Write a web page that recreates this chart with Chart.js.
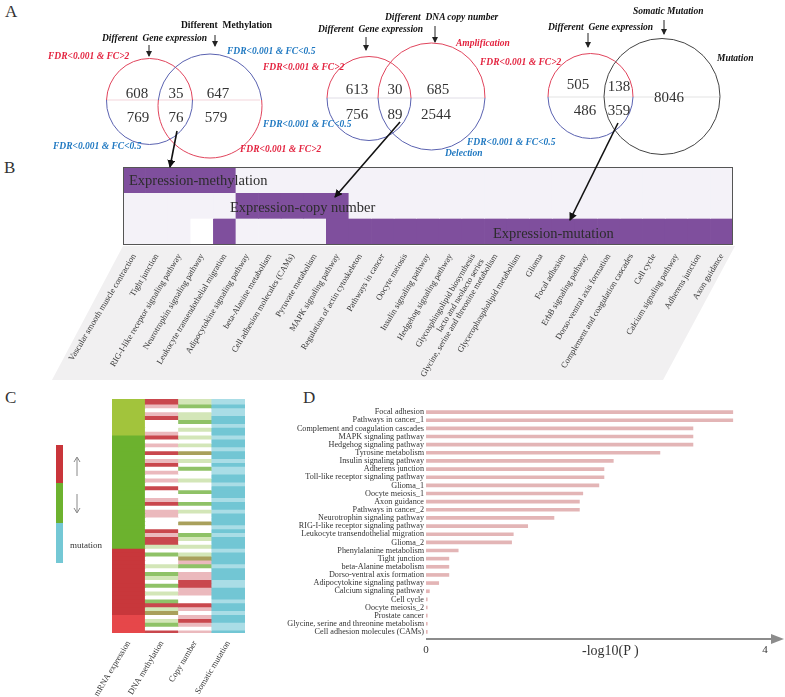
<!DOCTYPE html>
<html>
<head>
<meta charset="utf-8">
<script src="https://cdn.jsdelivr.net/npm/chart.js@4.4.1/dist/chart.umd.min.js"></script>
<style>
  body { margin: 0; background: #fff; }
  #page { position: relative; width: 785px; height: 697px; overflow: hidden; font-family: 'Liberation Serif', 'Times New Roman', serif; color: #222; }
  .box { position: absolute; }
  .lbl { position: absolute; white-space: nowrap; }
  .panel { font-size: 17px; color: #333; }
  .rowtxt { font-size: 14.5px; color: #2c2c2c; transform: translateY(-50%); z-index: 2; }
  #overlay { position: absolute; left: 0; top: 0; pointer-events: none; z-index: 3; }
</style>
</head>
<body>
<div id="page">
  <div class="lbl panel" style="left:5px;top:2px">A</div>
  <div class="lbl panel" style="left:4px;top:158px">B</div>
  <div class="lbl panel" style="left:5px;top:388px">C</div>
  <div class="lbl panel" style="left:303px;top:388px">D</div>

  <canvas id="chartB" class="box" width="785" height="240" style="left:0;top:160px"></canvas>
  <div class="lbl rowtxt" style="left:129px;top:180px">Expression-methylation</div>
  <div class="lbl rowtxt" style="left:230px;top:207px">Expression-copy number</div>
  <div class="lbl rowtxt" style="left:493px;top:233px">Expression-mutation</div>

  <canvas id="chartC" class="box" width="265" height="307" style="left:0;top:390px"></canvas>
  <div class="box" style="left:56px;top:445px;width:7px;height:38px;background:#c9353a"></div>
  <div class="box" style="left:56px;top:483px;width:7px;height:40px;background:#6db22f"></div>
  <div class="box" style="left:56px;top:523px;width:7px;height:40px;background:#74c8d5"></div>
  <div class="lbl" style="left:70px;top:540px;font-size:9px;color:#333">mutation</div>

  <canvas id="chartD" class="box" width="517" height="262" style="left:268px;top:400px"></canvas>
  <div class="lbl" style="left:582px;top:643px;font-size:14px;color:#333">-log10(P )</div>

  <svg id="overlay" width="785" height="697"></svg>
</div>
<script>
Chart.defaults.font.family = "'Liberation Serif', 'Times New Roman', serif";

// Panel A: Venn counts
const vennMethylation = [608, 35, 647, 769, 76, 579];
const vennCopyNumber = [613, 30, 685, 756, 89, 2544];
const vennMutation = [505, 138, 8046, 486, 359];

// Panel B: pathways and overlap rows (P = overlap, L = none, W = blank)
const pathwayLabels = [
  'Vascular smooth muscle contraction', 'Tight junction', 'RIG-I-like receptor signaling pathway',
  'Neurotrophin signaling pathway', 'Leukocyte transendothelial migration', 'Adipocytokine signaling pathway',
  'beta-Alanine metabolism', 'Cell adhesion molecules (CAMs)', 'Pyruvate metabolism',
  'MAPK signaling pathway', 'Regulation of actin cytoskeleton', 'Pathways in cancer', 'Oocyte meiosis',
  'Insulin signaling pathway', 'Hedgehog signaling pathway',
  ['Glycosphingolipid biosynthesis', 'lacto and neolacto series'],
  'Glycine, serine and threonine metabolism', 'Glycerophospholipid metabolism', 'Glioma',
  'Focal adhesion', 'ErbB signaling pathway', 'Dorso-ventral axis formation',
  'Complement and coagulation cascades', 'Cell cycle', 'Calcium signaling pathway',
  'Adherens junction', 'Axon guidance'
];
const rowMethylation = 'PPPPPLLLLLLLLLLLLLLLLLLLLLL';
const rowCopyNumber  = 'LLLLLPPPPPLLLLLLLLLLLLLLLLL';
const rowMutation    = 'LLLWPLLLLPPPPPPPPPPPPPPPPPP';

// Panel C: heatmap columns, one letter per row (top to bottom)
const heatColumns = ['mRNA expression', 'DNA methylation', 'Copy number', 'Somatic mutation'];
const heatMrna = ['yyyyyyyyyM', 'MMMMMMMMMM', 'MMMMMMMMMM', 'MMMMMMMMRR', 'RRRRRRRRRR', 'RRRRREEEEE'].join('');
const heatMeth = ['rp.pr...pr', '.p.r.pr.p.', 'p.r..pr.pp', '...rprrg.G', '..g.Gg.G.g', '.Grgo.gG.r'].join('');
const heatCopy = ['gG.ggG.g.g', '.g.o.g.G..', 'g..G..G.g.', '.o..Gg.g.g', 'opG.pprrpp', '..rp.prp.p'].join('');
const heatMut  = ['lcllcclccl', 'cclcclcllc', 'clccclcclc', 'cclclccclc', 'cclcccllcc', 'clcclccllc'].join('');

// Panel D: enrichment
const enrichLabels = [
  'Focal adhesion', 'Pathways in cancer_1', 'Complement and coagulation cascades',
  'MAPK signaling pathway', 'Hedgehog signaling pathway', 'Tyrosine metabolism',
  'Insulin signaling pathway', 'Adherens junction', 'Toll-like receptor signaling pathway',
  'Glioma_1', 'Oocyte meiosis_1', 'Axon guidance', 'Pathways in cancer_2',
  'Neurotrophin signaling pathway', 'RIG-I-like receptor signaling pathway',
  'Leukocyte transendothelial migration', 'Glioma_2', 'Phenylalanine metabolism',
  'Tight junction', 'beta-Alanine metabolism', 'Dorso-ventral axis formation',
  'Adipocytokine signaling pathway', 'Calcium signaling pathway', 'Cell cycle',
  'Oocyte meiosis_2', 'Prostate cancer', 'Glycine, serine and threonine metabolism',
  'Cell adhesion molecules (CAMs)'
];
const enrichValues = [3.62, 3.62, 3.15, 3.15, 3.15, 2.76, 2.21, 2.10, 2.10, 2.04, 1.85, 1.81, 1.81,
  1.51, 1.20, 1.03, 1.01, 0.38, 0.27, 0.27, 0.27, 0.15, 0.04, 0.015, 0.015, 0.015, 0.015, 0.015];

// ---------- Panel B ----------
const cellColor = { P: '#7f4f9d', L: '#f4f2f8', W: '#ffffff' };
const overlapRows = [rowMethylation, rowCopyNumber, rowMutation];

const labelBackdrop = {
  id: 'labelBackdrop',
  beforeDraw(chart) {
    const ctx = chart.ctx;
    ctx.save();
    ctx.fillStyle = '#f1f0f1';
    ctx.beginPath();
    ctx.moveTo(123, 86);
    ctx.lineTo(735, 86);
    ctx.lineTo(663, 220);
    ctx.lineTo(52, 220);
    ctx.closePath();
    ctx.fill();
    ctx.restore();
  }
};
const frame = {
  id: 'frame',
  afterDatasetsDraw(chart) {
    const { left, top, width, height } = chart.chartArea;
    chart.ctx.save();
    chart.ctx.strokeStyle = '#555';
    chart.ctx.lineWidth = 1;
    chart.ctx.strokeRect(left + 0.5, top + 0.5, width - 1, height);
    chart.ctx.restore();
  }
};

new Chart(document.getElementById('chartB'), {
  type: 'bar',
  data: {
    labels: pathwayLabels,
    datasets: overlapRows.map((row, r) => ({
      data: pathwayLabels.map(() => [r, r + 1]),
      backgroundColor: row.split('').map(k => cellColor[k]),
      grouped: false,
      barPercentage: 1,
      categoryPercentage: 1,
      borderWidth: 0
    }))
  },
  options: {
    responsive: false,
    animation: false,
    layout: { padding: { left: 123, right: 52, top: 7, bottom: 0 } },
    plugins: { legend: { display: false }, tooltip: { enabled: false } },
    scales: {
      x: {
        grid: { display: false, drawTicks: false },
        border: { display: false },
        ticks: { autoSkip: false, minRotation: 59, maxRotation: 59, padding: 8, font: { size: 8.5 }, color: '#333' },
        afterFit: s => { s.height = 156; }
      },
      y: { min: 0, max: 3, reverse: true, display: false }
    }
  },
  plugins: [labelBackdrop, frame]
});

// ---------- Panel C ----------
const heatColor = {
  y: '#a2c43c', M: '#6cb22e', R: '#c8373b', E: '#e6474a',
  '.': '#ffffff', p: '#ebb9bd', r: '#c9474d', g: '#d3e6b8', G: '#8fc267', o: '#a9a05c',
  c: '#72c6d4', l: '#aadde6'
};
const heatStrings = [heatMrna, heatMeth, heatCopy, heatMut];
const heatRows = heatMrna.length;
const heatDatasets = [];
for (let i = 0; i < heatRows; i++) {
  const colors = heatStrings.map(s => heatColor[s[i]]);
  // each row slightly overlaps the next one so no seams show between cells
  const end = i < heatRows - 1 ? i + 1.3 : i + 1;
  heatDatasets.push({
    data: heatColumns.map(() => [i, end]),
    backgroundColor: colors,
    borderWidth: 0,
    grouped: false,
    barPercentage: 1,
    categoryPercentage: 1
  });
}

new Chart(document.getElementById('chartC'), {
  type: 'bar',
  data: { labels: heatColumns, datasets: heatDatasets },
  options: {
    responsive: false,
    animation: false,
    layout: { padding: { left: 112, right: 20, top: 9, bottom: 0 } },
    plugins: { legend: { display: false }, tooltip: { enabled: false } },
    scales: {
      x: {
        grid: { display: false, drawTicks: false },
        border: { display: false },
        ticks: { autoSkip: false, minRotation: 59, maxRotation: 59, padding: 6, font: { size: 8.5 }, color: '#333' },
        afterFit: s => { s.height = 64; }
      },
      y: { min: 0, max: heatRows, reverse: true, display: false }
    }
  }
});

// ---------- Panel D ----------
const axisArrow = {
  id: 'axisArrow',
  afterDraw(chart) {
    const ctx = chart.ctx;
    const y = chart.chartArea.bottom + 3;
    const x0 = chart.chartArea.left;
    const x1 = chart.width - 5;
    ctx.save();
    ctx.strokeStyle = '#8c8c8c';
    ctx.fillStyle = '#8c8c8c';
    ctx.lineWidth = 2;
    ctx.beginPath();
    ctx.moveTo(x0, y);
    ctx.lineTo(x1 - 6, y);
    ctx.stroke();
    ctx.beginPath();
    ctx.moveTo(x1 + 4, y);
    ctx.lineTo(x1 - 9, y - 5);
    ctx.lineTo(x1 - 9, y + 5);
    ctx.closePath();
    ctx.fill();
    ctx.restore();
  }
};

new Chart(document.getElementById('chartD'), {
  type: 'bar',
  data: {
    labels: enrichLabels,
    datasets: [{ data: enrichValues, backgroundColor: '#e3b5b6', barThickness: 3 }]
  },
  options: {
    indexAxis: 'y',
    responsive: false,
    animation: false,
    layout: { padding: { top: 8, right: 20 } },
    plugins: { legend: { display: false }, tooltip: { enabled: false } },
    scales: {
      x: {
        min: 0,
        max: 4,
        grid: { display: false, drawTicks: false },
        border: { display: false },
        ticks: { stepSize: 4, maxRotation: 0, padding: 8, font: { size: 11 }, color: '#333' },
        afterFit: s => { s.height = 26; }
      },
      y: {
        grid: { display: false, drawTicks: false },
        border: { display: false },
        ticks: { autoSkip: false, padding: 2, font: { size: 8.2 }, color: '#333' },
        afterFit: s => { s.width = 158; }
      }
    }
  },
  plugins: [axisArrow]
});

// ---------- Panel A (Venn diagrams) and connecting arrows ----------
const svgNS = 'http://www.w3.org/2000/svg';
const svg = document.getElementById('overlay');
function el(tag, attrs, text, parent) {
  const e = document.createElementNS(svgNS, tag);
  for (const k in attrs) e.setAttribute(k, attrs[k]);
  if (text != null) e.textContent = text;
  (parent || svg).appendChild(e);
  return e;
}
const defs = el('defs', {});
const mk = el('marker', { id: 'head', markerWidth: 8, markerHeight: 8, refX: 7, refY: 4, orient: 'auto', markerUnits: 'userSpaceOnUse' }, null, defs);
el('path', { d: 'M0,0 L8,4 L0,8 Z', fill: '#111' }, null, mk);
const mk2 = el('marker', { id: 'small', markerWidth: 6, markerHeight: 6, refX: 5, refY: 3, orient: 'auto', markerUnits: 'userSpaceOnUse' }, null, defs);
el('path', { d: 'M0,0 L6,3 L0,6 Z', fill: '#222' }, null, mk2);

function splitCircle(cx, cy, r, lineY, topColor, bottomColor) {
  const dx = Math.sqrt(r * r - (lineY - cy) * (lineY - cy));
  const big = lineY > cy ? 1 : 0;
  el('path', { d: `M${cx - dx},${lineY} A${r},${r} 0 ${big} 1 ${cx + dx},${lineY}`, fill: 'none', stroke: topColor, 'stroke-width': 1 });
  el('path', { d: `M${cx + dx},${lineY} A${r},${r} 0 ${1 - big} 1 ${cx - dx},${lineY}`, fill: 'none', stroke: bottomColor, 'stroke-width': 1 });
}
const RED = '#e0445c', BLUE = '#5a62b0', AR = '#e3233f', AB = '#1f78c1';

// Venn 1
el('line', { x1: 107, y1: 100, x2: 260, y2: 100, stroke: '#f3d5db', 'stroke-width': 1 });
splitCircle(149.5, 101.5, 43, 100, RED, BLUE);
splitCircle(210, 106, 52, 100, BLUE, RED);
// Venn 2
el('line', { x1: 327, y1: 98, x2: 485, y2: 98, stroke: '#e0dde6', 'stroke-width': 1 });
splitCircle(369, 98.5, 42, 98, RED, BLUE);
splitCircle(431.5, 96.5, 53.5, 98, RED, BLUE);
// Venn 3
el('line', { x1: 548, y1: 97, x2: 720, y2: 97, stroke: '#e3e3e3', 'stroke-width': 1 });
splitCircle(590.5, 96, 42.5, 97, RED, BLUE);
el('circle', { cx: 662, cy: 96.5, r: 58, fill: 'none', stroke: '#444', 'stroke-width': 1 });

function num(v, x, y) {
  el('text', { x, y: y + 5, 'text-anchor': 'middle', 'font-size': 15, fill: '#333', 'font-family': 'Liberation Serif' }, String(v));
}
const pos1 = [[137, 93], [176, 93], [218, 93], [138, 117], [176, 117], [216, 117]];
vennMethylation.forEach((v, i) => num(v, pos1[i][0], pos1[i][1]));
const pos2 = [[357, 89], [395, 89], [438, 89], [357, 114], [395, 114], [436, 114]];
vennCopyNumber.forEach((v, i) => num(v, pos2[i][0], pos2[i][1]));
const pos3 = [[578, 84], [619, 86], [669, 97], [585, 110], [619, 110]];
vennMutation.forEach((v, i) => num(v, pos3[i][0], pos3[i][1]));

function note(t, x, y, color, italic, anchor) {
  el('text', {
    x, y, fill: color, 'font-size': 9.5, 'font-weight': 'bold',
    'font-style': italic ? 'italic' : 'normal', 'text-anchor': anchor || 'start',
    'font-family': 'Liberation Serif', style: 'white-space:pre'
  }, t);
}
note('Different  Gene expression', 102, 41, '#111', true);
note('Different  Methylation', 181, 28, '#111', false);
note('FDR<0.001 & FC>2', 48, 59, AR, true);
note('FDR<0.001 & FC<0.5', 227, 54, AB, true);
note('FDR<0.001 & FC<0.5', 53, 149, AB, true);
note('FDR<0.001 & FC>2', 240, 152, AR, true);

note('Different  Gene expression', 318, 32, '#111', true);
note('Different  DNA copy number', 385, 20, '#111', true);
note('Amplification', 456, 46, AR, true);
note('FDR<0.001 & FC>2', 263, 70, AR, true);
note('FDR<0.001 & FC>2', 480, 65, AR, true);
note('FDR<0.001 & FC<0.5', 263, 127, AB, true);
note('FDR<0.001 & FC<0.5', 467, 145, AB, true);
note('Delection', 445, 156, AB, true);

note('Different  Gene expression', 548, 30, '#111', true);
note('Somatic Mutation', 633, 14, '#111', true);
note('Mutation', 717, 61, '#111', true);

function arrow(x1, y1, x2, y2, id, w) {
  el('line', { x1, y1, x2, y2, stroke: id === 'head' ? '#111' : '#222', 'stroke-width': w, 'marker-end': `url(#${id})` });
}
arrow(149, 45, 149, 56, 'small', 1);
arrow(215, 35, 215, 46, 'small', 1);
arrow(366, 37, 366, 50, 'small', 1);
arrow(435, 26, 435, 42, 'small', 1);
arrow(588, 33, 588, 47, 'small', 1);
arrow(664, 20, 664, 34, 'small', 1);

arrow(177, 131, 170, 167, 'head', 1.6);
arrow(400, 122, 335, 197, 'head', 1.6);
arrow(618, 123, 570, 220, 'head', 1.6);

// legend arrows in panel C
el('line', { x1: 77, y1: 476, x2: 77, y2: 458, stroke: '#888', 'stroke-width': 1 });
el('path', { d: 'M74,462 L77,457 L80,462', fill: 'none', stroke: '#888', 'stroke-width': 1 });
el('line', { x1: 77, y1: 494, x2: 77, y2: 512, stroke: '#888', 'stroke-width': 1 });
el('path', { d: 'M74,508 L77,513 L80,508', fill: 'none', stroke: '#888', 'stroke-width': 1 });
</script>
</body>
</html>
